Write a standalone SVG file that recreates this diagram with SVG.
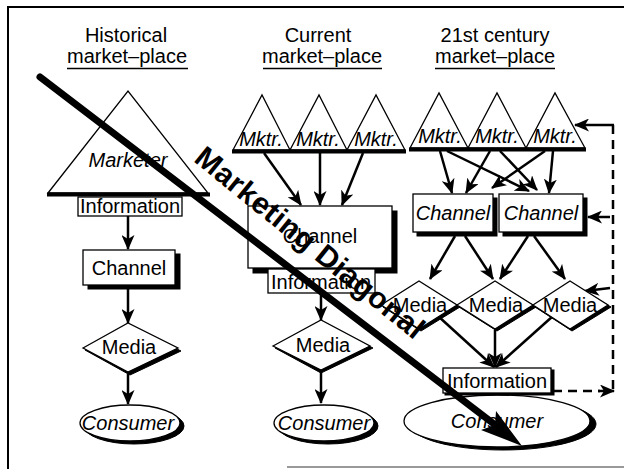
<svg xmlns="http://www.w3.org/2000/svg" width="624" height="470" viewBox="0 0 624 470">
<defs>
<marker id="ah" markerWidth="15" markerHeight="13" refX="14" refY="6.5" orient="auto" markerUnits="userSpaceOnUse"><path d="M0,0 L15,6.5 L0,13 L4,6.5 z" fill="#000"/></marker>
</defs>
<style>
text{font-family:"Liberation Sans",Arial,Helvetica,sans-serif;font-size:20px;fill:#000;text-anchor:middle}
.it{font-style:italic}
.sh{fill:#000;stroke:#000;stroke-width:1}
.nd{fill:#fff;stroke:#000;stroke-width:1.3}
.base{stroke:#000;stroke-width:4;fill:none}
.ar{stroke:#000;stroke-width:2.5;fill:none;marker-end:url(#ah)}
.dash{stroke:#000;stroke-width:2.5;fill:none;stroke-dasharray:9 6}
.ul{stroke:#000;stroke-width:1.5}
</style>
<rect width="624" height="470" fill="#fff"/>
<g id="frame">
<line x1="8" y1="7" x2="624" y2="7" stroke="#000" stroke-width="2"/>
<line x1="8" y1="6" x2="8" y2="469" stroke="#000" stroke-width="2"/>
<line x1="287" y1="467" x2="624" y2="467" stroke="#777" stroke-width="1.5"/>
</g>
<g id="titles">
<text x="126" y="42">Historical</text>
<text x="127" y="63">market–place</text>
<line class="ul" x1="67" y1="68.5" x2="188" y2="68.5"/>
<text x="318" y="42">Current</text>
<text x="322" y="63">market–place</text>
<line class="ul" x1="263" y1="68.5" x2="382" y2="68.5"/>
<text x="495" y="42">21st century</text>
<text x="495" y="63">market–place</text>
<line class="ul" x1="435" y1="68.5" x2="555" y2="68.5"/>
</g>
<g id="connectors">
<line class="ar" x1="128" y1="216" x2="128" y2="249"/>
<line class="ar" x1="128" y1="289" x2="128" y2="323"/>
<line class="ar" x1="128" y1="374" x2="128" y2="404"/>
<line class="ar" x1="264" y1="153" x2="301" y2="205"/>
<line class="ar" x1="320" y1="153" x2="320" y2="205"/>
<line class="ar" x1="363" y1="153" x2="342" y2="205"/>
<line class="ar" x1="321" y1="294" x2="321" y2="320"/>
<line class="ar" x1="321" y1="372" x2="321" y2="403"/>
<line class="ar" x1="440" y1="151" x2="452" y2="193"/>
<line class="ar" x1="447" y1="151" x2="529" y2="191"/>
<line class="ar" x1="490" y1="151" x2="466" y2="193"/>
<line class="ar" x1="500" y1="151" x2="537" y2="190"/>
<line class="ar" x1="545" y1="151" x2="492" y2="188"/>
<line class="ar" x1="553" y1="151" x2="549" y2="193"/>
<line class="ar" x1="455" y1="236" x2="430" y2="279"/>
<line class="ar" x1="465" y1="236" x2="493" y2="279"/>
<line class="ar" x1="528" y1="236" x2="500" y2="279"/>
<line class="ar" x1="534" y1="236" x2="565" y2="279"/>
<line class="ar" x1="438" y1="316" x2="494" y2="367"/>
<line class="ar" x1="495" y1="330" x2="495" y2="367"/>
<line class="ar" x1="553" y1="316" x2="496" y2="367"/>
<line class="dash" x1="613" y1="125" x2="613" y2="392"/>
<line class="ar" x1="614" y1="125" x2="575" y2="125"/>
<line class="ar" x1="610" y1="217" x2="588" y2="217"/>
<line class="ar" x1="610" y1="288" x2="585" y2="291"/>
<line class="dash" x1="553" y1="391" x2="600" y2="391"/>
<line class="ar" x1="598" y1="391" x2="614" y2="391"/>
</g>
<g id="hist-marketer">
<polygon class="nd" points="48,193 128,91 208,193"/>
<line class="base" x1="47" y1="194.5" x2="210" y2="194.5"/>
<text class="it" x="128" y="167">Marketer</text>
</g>
<g id="hist-information">
<rect class="nd" x="78" y="197" width="104" height="19"/>
<text x="130" y="213">Information</text>
</g>
<g id="hist-channel">
<rect class="sh" x="88" y="254" width="92" height="35"/>
<rect class="nd" x="83" y="250" width="92" height="35"/>
<text x="129" y="275">Channel</text>
</g>
<g id="hist-media">
<polygon class="sh" points="85,350 130,325 181,351 130,375"/>
<polygon class="nd" points="83,348 128,323 178,348 128,372"/>
<text x="129" y="354">Media</text>
</g>
<g id="hist-consumer">
<ellipse class="sh" cx="134" cy="426" rx="50" ry="18"/>
<ellipse class="nd" cx="130" cy="423" rx="50" ry="18"/>
<text class="it" x="128" y="430">Consumer</text>
</g>
<g id="cur-mktr1">
<polygon class="nd" points="233,150 262,95 290,150"/>
<text class="it" x="261" y="146">Mktr.</text>
</g>
<g id="cur-mktr2">
<polygon class="nd" points="290,150 319,95 347,150"/>
<text class="it" x="318" y="146">Mktr.</text>
</g>
<g id="cur-mktr3">
<polygon class="nd" points="347,150 376,95 405,150"/>
<text class="it" x="376" y="146">Mktr.</text>
</g>
<line class="base" x1="232" y1="151.5" x2="406" y2="151.5"/>
<g id="cur-channel">
<rect class="sh" x="253" y="211" width="144" height="62"/>
<rect class="nd" x="248" y="206" width="144" height="62"/>
<text x="320" y="243">Channel</text>
</g>
<g id="cur-information">
<rect class="nd" x="268" y="269" width="107" height="24"/>
<text x="321" y="289">Information</text>
</g>
<g id="cur-media">
<polygon class="sh" points="275,348 321,323 373,348 321,373"/>
<polygon class="nd" points="273,346 321,320 370,346 321,370"/>
<text x="323" y="352">Media</text>
</g>
<g id="cur-consumer">
<ellipse class="sh" cx="328" cy="426" rx="50" ry="18"/>
<ellipse class="nd" cx="324" cy="423" rx="50" ry="18"/>
<text class="it" x="324" y="430">Consumer</text>
</g>
<g id="new-mktr1">
<polygon class="nd" points="410,148 439,93 468,148"/>
<text class="it" x="440" y="143">Mktr.</text>
</g>
<g id="new-mktr2">
<polygon class="nd" points="468,148 497,93 526,148"/>
<text class="it" x="497" y="143">Mktr.</text>
</g>
<g id="new-mktr3">
<polygon class="nd" points="526,148 555,93 585,148"/>
<text class="it" x="555" y="143">Mktr.</text>
</g>
<line class="base" x1="409" y1="149.5" x2="586" y2="149.5"/>
<g id="new-channel1">
<rect class="sh" x="417" y="198" width="80" height="38"/>
<rect class="nd" x="413" y="194" width="80" height="38"/>
<text class="it" x="453" y="220">Channel</text>
</g>
<g id="new-channel2">
<rect class="sh" x="503" y="198" width="84" height="38"/>
<rect class="nd" x="499" y="194" width="84" height="38"/>
<text class="it" x="541" y="220">Channel</text>
</g>
<g id="new-media1">
<polygon class="sh" points="383,307 421,283 460,307 421,331"/>
<polygon class="nd" points="381,305 419,281 457,305 419,329"/>
<text x="420" y="312">Media</text>
</g>
<g id="new-media2">
<polygon class="sh" points="459,307 497,283 536,307 497,331"/>
<polygon class="nd" points="457,305 495,281 533,305 495,329"/>
<text x="496" y="312">Media</text>
</g>
<g id="new-media3">
<polygon class="sh" points="535,307 572,283 611,307 572,331"/>
<polygon class="nd" points="533,305 570,281 608,305 570,329"/>
<text x="570" y="312">Media</text>
</g>
<g id="new-consumer">
<ellipse class="sh" cx="503" cy="424" rx="93" ry="26"/>
<ellipse class="nd" cx="497" cy="421" rx="93" ry="26"/>
<text class="it" x="497" y="428">Consumer</text>
</g>
<g id="new-information">
<rect class="sh" x="445" y="370" width="109" height="25"/>
<rect class="nd" x="443" y="368" width="108" height="25"/>
<text x="497" y="388">Information</text>
</g>
<g id="marketing-diagonal">
<line x1="40" y1="77" x2="494" y2="424" stroke="#000" stroke-width="7" stroke-linecap="round"/>
<polygon points="522,446 481,430 495,425 496,411" fill="#000"/>
<text transform="translate(310,243) rotate(39)" x="0" y="10" style="font-size:30px;font-weight:bold;letter-spacing:0.5px">Marketing Diagonal</text>
</g>
</svg>
